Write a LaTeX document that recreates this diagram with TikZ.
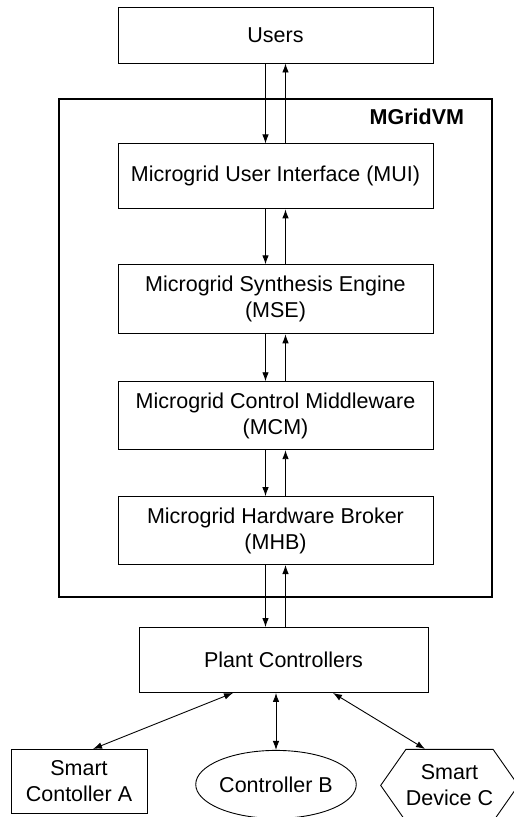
\documentclass[tikz,border=0pt]{standalone}
\usepackage{fontspec}
\setmainfont{Liberation Sans}
\usetikzlibrary{positioning}
\usetikzlibrary{arrows.meta}
\usetikzlibrary{shapes.geometric,shapes.symbols}

\begin{document}
\begin{tikzpicture}[
    node distance=56pt and 20pt,
    font=\fontsize{21.5pt}{26pt}\selectfont,
    layerbox/.style={draw,line width=0.9pt,minimum width=315pt,minimum height=68pt,align=center,inner sep=2pt},
    link/.style={line width=0.9pt,-{Latex[length=9pt,width=6.5pt]}},
    duplex/.style={line width=0.9pt,{Latex[length=9pt,width=6.5pt]}-{Latex[length=9pt,width=6.5pt]}}
    ]
    \useasboundingbox (0,0) rectangle (514pt,-817pt);

    \node[layerbox, minimum height=56pt] (users) at (275.5pt,-35pt) {Users};
    \node[draw, line width=2.6pt, minimum width=433pt, minimum height=498pt, inner sep=0pt] (vm) at (275.5pt,-348pt) {};
    \node[anchor=base east, inner sep=0pt, font=\fontsize{21.5pt}{26pt}\selectfont\bfseries] (vmname) at ([xshift=-29pt,yshift=-27pt]vm.north east) {MGridVM};
    \node[layerbox, minimum height=65pt, below=80pt of users] (mui) {Microgrid User Interface (MUI)};
    \node[layerbox, minimum height=69pt, below=55pt of mui] (mse) {Microgrid Synthesis Engine\\(MSE)};
    \node[layerbox, below=47pt of mse] (mcm) {Microgrid Control Middleware\\(MCM)};
    \node[layerbox, below=46pt of mcm] (mhb) {Microgrid Hardware Broker\\(MHB)};
    \node[layerbox, minimum width=289pt, minimum height=65pt, below=62pt of mhb, xshift=8pt] (plant) {Plant Controllers};

    \node[draw, line width=0.9pt, minimum width=136pt, minimum height=64pt, align=center, inner sep=0pt, below=56pt of plant.south, xshift=-204.5pt] (sca) {Smart\\Contoller A};
    \node[draw, ellipse, line width=0.9pt, minimum width=142pt, minimum height=68pt, inner sep=0pt, below=57pt of plant.south, xshift=-7.5pt] (cb) {Controller B};
    \node[draw, signal, signal to=west and east, signal pointer angle=110, line width=0.9pt, minimum width=127pt, minimum height=72pt, align=center, inner sep=0pt, below=56pt of plant.south, xshift=166pt] (sdc) {Smart\\Device C};

    \coordinate (dn) at (265.5pt,0pt);
    \coordinate (up) at (285.5pt,0pt);
    \foreach \a/\b in {users/mui,mui/mse,mse/mcm,mcm/mhb,mhb/plant} {
      \draw[link] (\a.south -| dn) -- (\b.north -| dn);
      \draw[link] (\b.north -| up) -- (\a.south -| up);
    }

    \draw[duplex] ([xshift=-50.5pt]plant.south) -- ([xshift=14pt]sca.north);
    \draw[duplex] (cb.north |- plant.south) -- (cb.north);
    \draw[duplex] ([xshift=49.5pt]plant.south) -- ([xshift=-24.5pt]sdc.north);
\end{tikzpicture}
\end{document}
